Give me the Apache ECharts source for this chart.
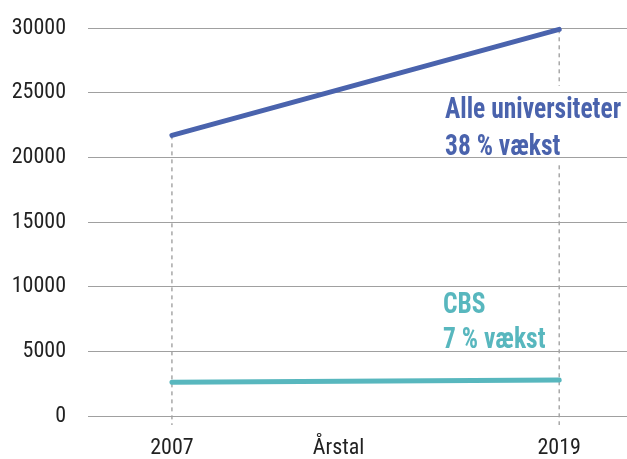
<!DOCTYPE html>
<html>
<head>
<meta charset="utf-8">
<script src="https://cdn.jsdelivr.net/npm/echarts@6/dist/echarts.min.js"></script>
<style>
  html, body { margin: 0; padding: 0; background: #fff; }
  #chart { width: 627px; height: 459px; }
</style>
</head>
<body>
<div id="chart"></div>
<script>
// data
const years = [2007, 2019]
const alleUni = [21700, 29900]
const cbs = [2600, 2780]
const yTicks = [0, 5000, 10000, 15000, 20000, 25000, 30000]

const FONT = '"Roboto Condensed", "Liberation Sans Narrow", "DejaVu Sans Condensed", sans-serif'
const BLUE = '#4a63ad'
const TEAL = '#58b7be'

// dashed drop lines from the top series down below the axis
const dropBottom = -700
const dropSeries = years.map((yr, i) => ({
  type: 'line',
  data: [[yr, alleUni[i]], [yr, dropBottom]],
  symbol: 'none',
  clip: false,
  silent: true,
  z: -2,
  lineStyle: { color: '#a8a8a8', width: 1.5, type: [4, 4] }
}))

const chart = echarts.init(document.getElementById('chart'))

chart.setOption({
  animation: false,
  grid: { left: 88, right: 0, top: 28, bottom: 43, outerBoundsMode: 'none', containLabel: false },
  xAxis: {
    type: 'value',
    min: 2004.4,
    max: 2021.1,
    axisLine: { show: false },
    axisTick: { show: false },
    splitLine: { show: false },
    axisLabel: {
      customValues: years,
      formatter: v => String(v),
      margin: 21,
      color: '#222',
      fontFamily: FONT,
      fontSize: 22
    },
    name: 'Årstal',
    nameLocation: 'middle',
    nameGap: 21,
    nameMoveOverlap: false,
    nameTextStyle: {
      color: '#222',
      fontFamily: FONT,
      fontSize: 22,
      verticalAlign: 'top',
      padding: [0, 38, 0, 0]
    }
  },
  yAxis: {
    type: 'value',
    min: yTicks[0],
    max: yTicks[yTicks.length - 1],
    interval: 5000,
    axisLine: { show: false },
    axisTick: { show: false },
    splitLine: { lineStyle: { color: '#a0a0a0', width: 1.2 } },
    axisLabel: {
      margin: 22,
      color: '#222',
      fontFamily: FONT,
      fontSize: 22,
      formatter: v => String(v)
    }
  },
  series: [
    ...dropSeries,
    {
      name: 'CBS',
      type: 'line',
      data: years.map((yr, i) => [yr, cbs[i]]),
      symbol: 'none',
      z: 3,
      lineStyle: { color: TEAL, width: 5, cap: 'round' }
    },
    {
      name: 'Alle universiteter',
      type: 'line',
      data: years.map((yr, i) => [yr, alleUni[i]]),
      symbol: 'none',
      z: 3,
      lineStyle: { color: BLUE, width: 5, cap: 'round' }
    }
  ],
  graphic: [
    {
      type: 'rect',
      left: 440,
      top: 86,
      z: -1,
      shape: { width: 187, height: 79 },
      style: { fill: '#fff' }
    },
    {
      type: 'text',
      x: 445,
      y: 92,
      scaleX: 0.85,
      z: 100,
      style: {
        text: 'Alle universiteter\n38 % vækst',
        fill: BLUE,
        fontFamily: FONT,
        fontWeight: 'bold',
        fontSize: 30,
        lineHeight: 37
      }
    },
    {
      type: 'text',
      x: 443,
      y: 288,
      scaleX: 0.85,
      z: 100,
      style: {
        text: 'CBS\n7 % vækst',
        fill: TEAL,
        fontFamily: FONT,
        fontWeight: 'bold',
        fontSize: 30,
        lineHeight: 35
      }
    }
  ]
})
</script>
</body>
</html>
